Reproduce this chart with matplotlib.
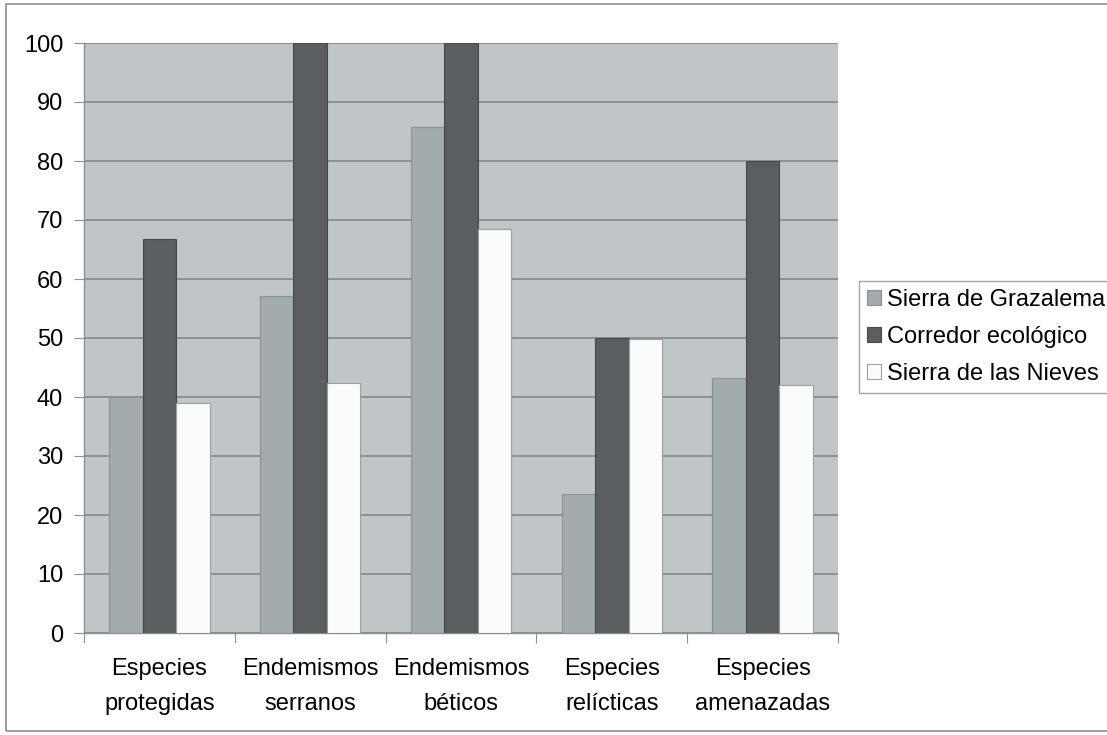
import matplotlib.pyplot as plt
import numpy as np
from matplotlib.patches import Rectangle

plt.rcParams["font.family"] = ["Liberation Sans", "DejaVu Sans"]

categorias = ["Especies\nprotegidas", "Endemismos\nserranos", "Endemismos\nbéticos",
              "Especies\nrelícticas", "Especies\namenazadas"]
series = ["Sierra de Grazalema", "Corredor ecológico", "Sierra de las Nieves"]
grazalema = [40.0, 57.1, 85.7, 23.5, 43.3]
corredor = [66.7, 100.0, 100.0, 50.0, 80.0]
nieves = [39.0, 42.3, 68.4, 49.8, 42.1]
yticks = list(range(0, 101, 10))

colores = ["#a4abae", "#5a5e61", "#fafbfb"]
bordes = ["#8a9094", "#45494c", "#9a9fa2"]

fig = plt.figure(figsize=(11.07, 7.35), dpi=100)
ax = fig.add_axes([84 / 1107, 102 / 735, 754 / 1107, 590 / 735])
ax.set_facecolor("#c0c5c8")

x = np.arange(len(categorias))
ancho = 1 / 4.5
for i, (nombre, valores) in enumerate(zip(series, [grazalema, corredor, nieves])):
    ax.bar(x + (i - 1) * ancho, valores, width=ancho, color=colores[i],
           edgecolor=bordes[i], linewidth=0.8, label=nombre, zorder=3)

ax.set_xlim(-0.5, len(categorias) - 0.5)
ax.set_ylim(0, 100)
ax.set_yticks(yticks)
ax.yaxis.grid(True, color="#7e8386", linewidth=1.1, zorder=1)
ax.set_axisbelow(True)

# ticks del eje x en los límites de cada categoría, etiquetas centradas
ax.set_xticks(np.arange(len(categorias) + 1) - 0.5)
ax.set_xticklabels([])
ax.set_xticks(x, minor=True)
ax.set_xticklabels(categorias, minor=True, fontsize=17, linespacing=1.75)
ax.tick_params(axis="x", which="minor", length=0, pad=18)
ax.tick_params(axis="x", which="major", length=7, color="#8a8f92", direction="out")
ax.tick_params(axis="y", length=7, color="#8a8f92", labelsize=17, pad=8)

for lado in ["top", "right"]:
    ax.spines[lado].set_visible(False)
for lado in ["left", "bottom"]:
    ax.spines[lado].set_color("#8a8f92")
    ax.spines[lado].set_linewidth(1.0)

# la leyenda se prolonga más allá del borde derecho
leg = fig.legend(loc="upper left", mode="expand",
                 bbox_to_anchor=(859 / 1107, 341 / 735, 270 / 1107, 113 / 735),
                 fontsize=17, frameon=True, fancybox=False, handlelength=0.6,
                 handleheight=0.6, handletextpad=0.25, labelspacing=0.62,
                 borderpad=0.35, borderaxespad=0)
leg.get_frame().set_edgecolor("#8a8f92")
leg.get_frame().set_linewidth(1.0)

# marco exterior del gráfico
fig.patches.append(Rectangle((6 / 1107, 4 / 735), 1.2, 727 / 735, transform=fig.transFigure,
                             fill=False, edgecolor="#8a8f92", linewidth=1.2))

fig.savefig("out.png", dpi=100, facecolor="white")
